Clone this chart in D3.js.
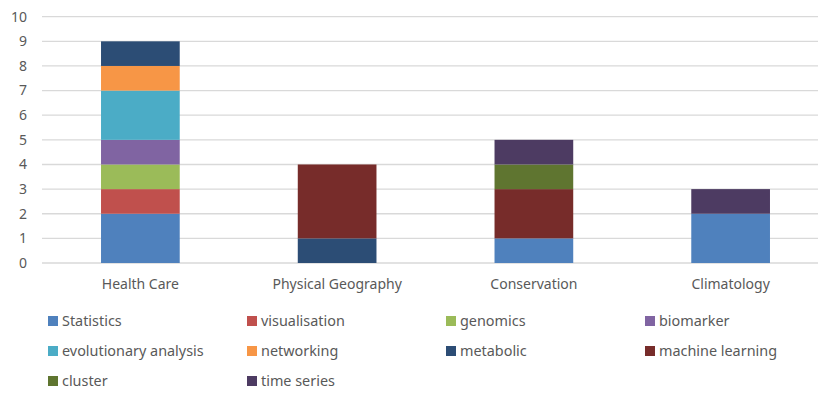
<!DOCTYPE html>
<html>
<head>
<meta charset="utf-8">
<script src="https://cdn.jsdelivr.net/npm/d3@7/dist/d3.min.js"></script>
<style>
  body { margin: 0; background: #fff; }
  text { font-family: "Noto Sans", "Open Sans", sans-serif; fill: #595959; }
</style>
</head>
<body>
<div id="chart"></div>
<script>
// categories along the x axis
var categories = ["Health Care", "Physical Geography", "Conservation", "Climatology"];

// series, in stacking order (bottom to top)
var seriesNames = ["Statistics", "visualisation", "genomics", "biomarker", "evolutionary analysis",
                   "networking", "metabolic", "machine learning", "cluster", "time series"];
var seriesColours = ["#4f81bd", "#c0504d", "#9bbb59", "#8064a2", "#4bacc6",
                     "#f79646", "#2c4d75", "#772c2a", "#5f7530", "#4d3b62"];

// values per series, one per category
var statistics      = [2, 0, 1, 2];
var visualisation   = [1, 0, 0, 0];
var genomics        = [1, 0, 0, 0];
var biomarker       = [1, 0, 0, 0];
var evolutionary    = [2, 0, 0, 0];
var networking      = [1, 0, 0, 0];
var metabolic       = [1, 1, 0, 0];
var machineLearning = [0, 3, 2, 0];
var cluster         = [0, 0, 1, 0];
var timeSeries      = [0, 0, 1, 1];

var yTicks = [0, 1, 2, 3, 4, 5, 6, 7, 8, 9, 10];

var seriesValues = [statistics, visualisation, genomics, biomarker, evolutionary,
                    networking, metabolic, machineLearning, cluster, timeSeries];

// build rows for d3.stack
var rows = categories.map(function(c, i) {
  var row = { category: c };
  seriesNames.forEach(function(s, j) { row[s] = seriesValues[j][i]; });
  return row;
});

var width = 818, height = 394;
var svg = d3.select("#chart").append("svg")
  .attr("width", width)
  .attr("height", height);

var x = d3.scaleBand()
  .domain(categories)
  .range([42, 829])
  .paddingInner(0.6)
  .paddingOuter(0.3);

var y = d3.scaleLinear()
  .domain([0, 10])
  .range([263, 16.7]);

var colour = d3.scaleOrdinal().domain(seriesNames).range(seriesColours);

// gridlines
svg.append("g")
  .selectAll("line")
  .data(yTicks)
  .enter().append("line")
    .attr("x1", 42)
    .attr("x2", 829)
    .attr("y1", function(d) { return y(d); })
    .attr("y2", function(d) { return y(d); })
    .attr("stroke", "#d9d9d9")
    .attr("stroke-width", 1.3);

// y labels
svg.append("g")
  .selectAll("text")
  .data(yTicks)
  .enter().append("text")
    .attr("x", 27)
    .attr("y", function(d) { return y(d); })
    .attr("dy", "0.35em")
    .attr("text-anchor", "end")
    .style("font-size", "14px")
    .text(function(d) { return d; });

// stacked bars
var stacked = d3.stack().keys(seriesNames)(rows);

svg.append("g")
  .selectAll("g")
  .data(stacked)
  .enter().append("g")
    .attr("fill", function(d) { return colour(d.key); })
  .selectAll("rect")
  .data(function(d) { return d.filter(function(p) { return p[1] - p[0] > 0; }); })
  .enter().append("rect")
    .attr("x", function(d) { return x(d.data.category); })
    .attr("width", x.bandwidth())
    .attr("y", function(d) { return y(d[1]); })
    .attr("height", function(d) { return y(d[0]) - y(d[1]); });

// x labels
svg.append("g")
  .selectAll("text")
  .data(categories)
  .enter().append("text")
    .attr("x", function(d) { return x(d) + x.bandwidth() / 2; })
    .attr("y", 284)
    .attr("dy", "0.35em")
    .attr("text-anchor", "middle")
    .style("font-size", "14px")
    .text(function(d) { return d; });

// legend, 4 columns
var legendX = [48, 247, 446, 645];
var legendY = [321, 351, 381];

var legend = svg.append("g")
  .selectAll("g")
  .data(seriesNames)
  .enter().append("g")
    .attr("transform", function(d, i) {
      return "translate(" + legendX[i % 4] + "," + legendY[Math.floor(i / 4)] + ")";
    });

legend.append("rect")
  .attr("x", 0)
  .attr("y", -5)
  .attr("width", 10)
  .attr("height", 10)
  .attr("fill", function(d) { return colour(d); });

legend.append("text")
  .attr("x", 14)
  .attr("y", 0)
  .attr("dy", "0.35em")
  .style("font-size", "14.4px")
  .text(function(d) { return d; });
</script>
</body>
</html>
